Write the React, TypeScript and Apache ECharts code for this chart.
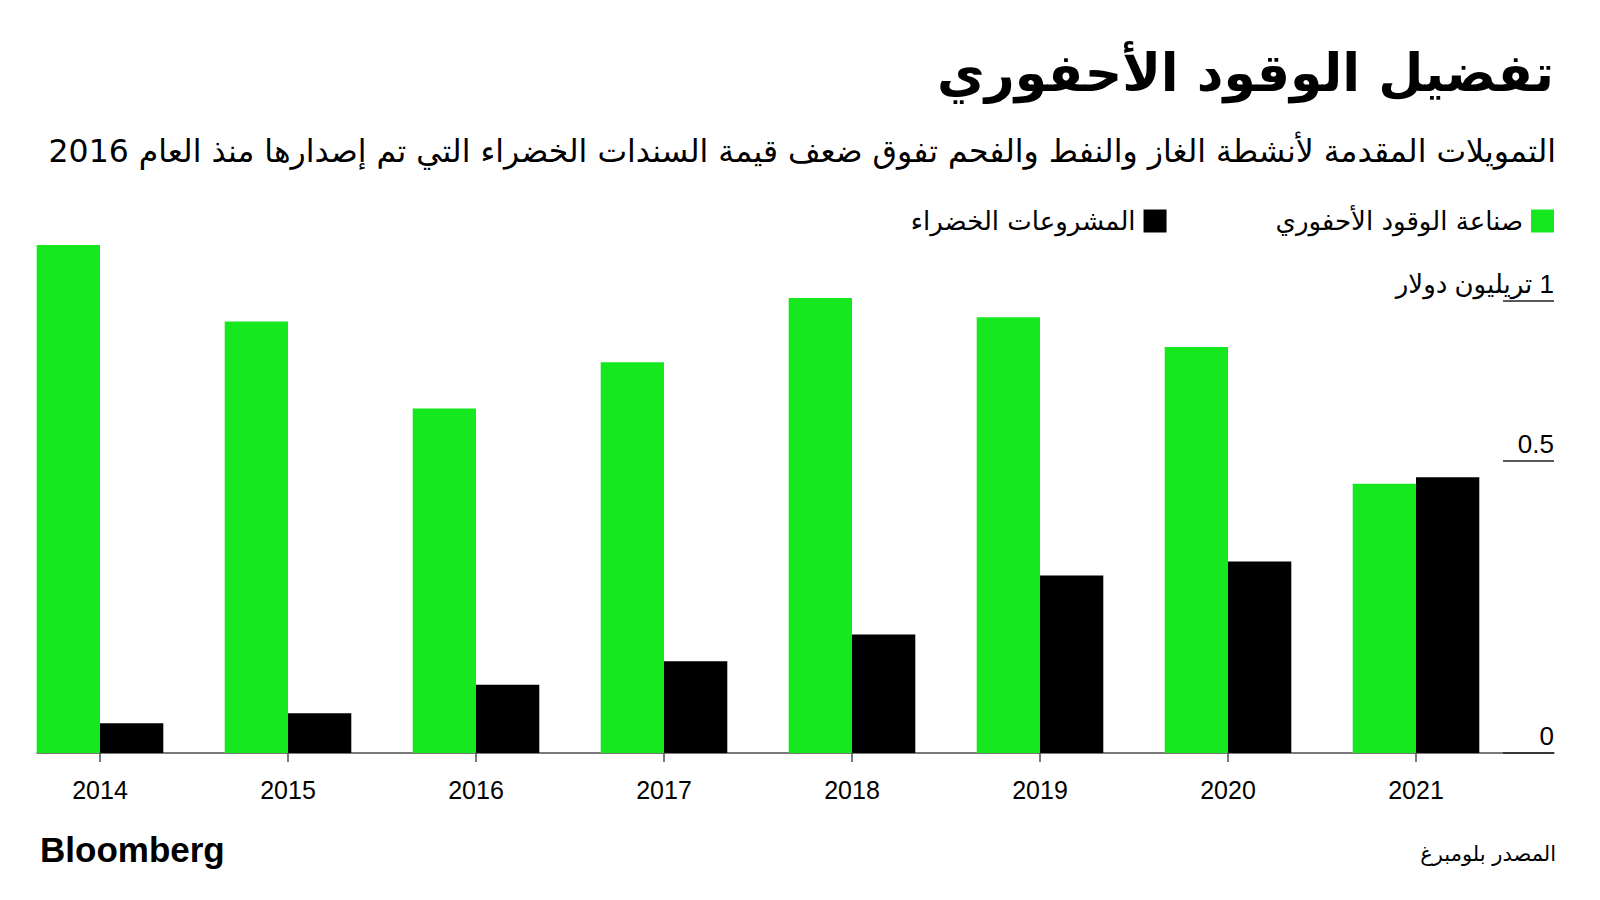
import React, { useEffect, useRef } from "react";
import * as echarts from "echarts";

const years = ["2014", "2015", "2016", "2017", "2018", "2019", "2020", "2021"];
const fossilFuel = [0.87, 0.739, 0.59, 0.669, 0.779, 0.746, 0.695, 0.461];
const greenProjects = [0.051, 0.068, 0.117, 0.157, 0.203, 0.304, 0.328, 0.472];
const yMax = 0.9;
const yTickValues = [0, 0.5, 0.774];
const yTickLabels = ["0", "0.5", "\u200F1 تريليون دولار"];
const seriesNames = ["صناعة الوقود الأحفوري", "المشروعات الخضراء"];
const titleText = "تفضيل الوقود الأحفوري";
const subtitleText =
  "التمويلات المقدمة لأنشطة الغاز والنفط والفحم تفوق ضعف قيمة السندات الخضراء التي تم إصدارها منذ العام 2016";
const sourceText = "المصدر بلومبرغ";
const brandText = "Bloomberg";

const GREEN = "#16E81F";
const BLACK = "#000000";
const AXIS = "#4d4d4d";
const LATIN = "'Liberation Sans', Arial, 'DejaVu Sans', sans-serif";
const ARABIC = "'DejaVu Sans', 'Liberation Sans', sans-serif";

export default function App() {
  const ref = useRef<HTMLDivElement>(null);
  useEffect(() => {
    if (!ref.current) return;
    const chart = echarts.init(ref.current, undefined, { renderer: "svg" });
    const gridTop = 227.4;
    const gridBottom = 147;
    chart.setOption({
      animation: false,
      backgroundColor: "#ffffff",
      grid: [
        { left: 6, width: 1504, top: gridTop, bottom: gridBottom },
        { left: 37, right: 46, top: gridTop, bottom: gridBottom },
      ],
      xAxis: [
        {
          type: "category",
          gridIndex: 0,
          data: years,
          axisLine: { show: false },
          axisTick: {
            show: true,
            alignWithLabel: true,
            length: 9,
            lineStyle: { color: AXIS, width: 1.5 },
          },
          axisLabel: {
            color: "#000",
            fontSize: 25,
            fontFamily: LATIN,
            margin: 24,
          },
        },
        {
          type: "value",
          gridIndex: 1,
          min: 0,
          max: 1,
          axisLine: { show: true, onZero: false, lineStyle: { color: AXIS, width: 1.5 } },
          axisTick: { show: false },
          axisLabel: { show: false },
          splitLine: { show: false },
        },
      ],
      yAxis: [
        {
          type: "value",
          gridIndex: 0,
          min: 0,
          max: yMax,
          show: false,
        },
        {
          type: "value",
          gridIndex: 1,
          position: "right",
          min: 0,
          max: yMax,
          axisLine: { show: false, onZero: false },
          splitLine: { show: false },
          axisTick: {
            show: true,
            inside: true,
            length: 51,
            customValues: yTickValues,
            lineStyle: { color: "#222", width: 1.5 },
          },
          axisLabel: {
            show: true,
            inside: true,
            margin: 0,
            customValues: yTickValues,
            color: "#000",
            fontSize: 26,
            fontFamily: LATIN,
            verticalAlign: "bottom",
            align: "right",
            padding: [0, 0, 4, 0],
            formatter: (v: number) => {
              const i = yTickValues.findIndex((t) => Math.abs(t - v) < 1e-6);
              return i >= 0 ? yTickLabels[i] : "";
            },
          },
        },
      ],
      legend: {
        data: [seriesNames[1], seriesNames[0]],
        right: 46,
        top: 208,
        padding: 0,
        align: "right",
        icon: "rect",
        itemWidth: 23,
        itemHeight: 23,
        itemGap: 109,
        textStyle: { fontSize: 26, fontFamily: ARABIC, color: "#000", padding: [0, 3, 0, 0] },
        selectedMode: false,
      },
      series: [
        {
          name: seriesNames[0],
          type: "bar",
          xAxisIndex: 0,
          yAxisIndex: 0,
          data: fossilFuel,
          barWidth: 63.3,
          barGap: "0%",
          itemStyle: { color: GREEN },
        },
        {
          name: seriesNames[1],
          type: "bar",
          xAxisIndex: 0,
          yAxisIndex: 0,
          data: greenProjects,
          barWidth: 63.3,
          barGap: "0%",
          itemStyle: { color: BLACK },
        },
      ],
      graphic: [
        {
          type: "text",
          x: 1554,
          y: 73,
          style: {
            text: titleText,
            fill: "#000",
            align: "right",
            verticalAlign: "middle",
            font: `bold 52px ${ARABIC}`,
          },
        },
        {
          type: "text",
          x: 1556,
          y: 151,
          style: {
            text: subtitleText,
            fill: "#000",
            align: "right",
            verticalAlign: "middle",
            font: `31.5px ${ARABIC}`,
          },
        },
        {
          type: "text",
          right: 44,
          top: 843,
          style: {
            text: sourceText,
            fill: "#000",
            font: `21px ${ARABIC}`,
          },
        },
        {
          type: "text",
          left: 40,
          top: 832,
          style: {
            text: brandText,
            fill: "#000",
            font: `bold 35px ${LATIN}`,
          },
        },
      ],
    });
    return () => chart.dispose();
  }, []);
  return (
    <div
      ref={ref}
      style={{ position: "fixed", left: 0, top: 0, width: 1600, height: 900, background: "#fff" }}
    />
  );
}
